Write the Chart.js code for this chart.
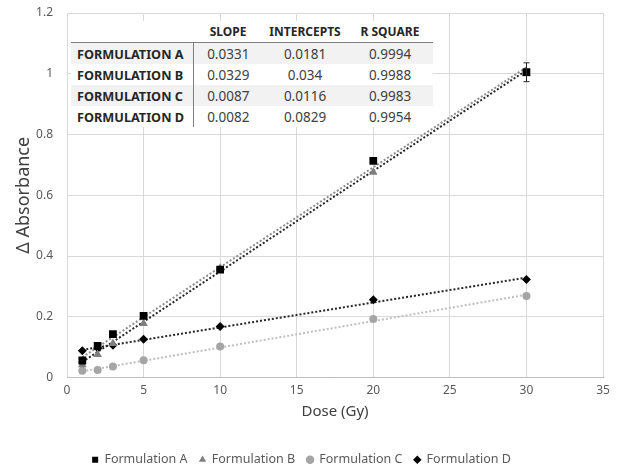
<!DOCTYPE html>
<html lang="en">
<head>
<meta charset="UTF-8" />
<title>Absorbance vs dose</title>
<script src="https://cdn.jsdelivr.net/npm/chart.js@4.4.1/dist/chart.umd.min.js"></script>
<style>
  html, body { margin: 0; padding: 0; background: #fff; }
  #wrap { position: relative; width: 617px; height: 466px; }
  #fitTable {
    position: absolute; left: 71px; top: 21px; width: 362px;
    border-collapse: collapse; background: #fff;
    font-family: "Noto Sans", sans-serif; font-size: 13.5px; color: #404040;
  }
  #fitTable th, #fitTable td { height: 21px; padding: 0; text-align: center; white-space: nowrap; }
  #fitTable thead th { font-size: 12px; font-weight: bold; color: #262626; border-bottom: 1px solid #7f7f7f; }
  #fitTable tbody th { font-size: 12.7px; text-align: left; padding-left: 6px; font-weight: bold; color: #262626; border-right: 1px solid #7f7f7f; }
  #fitTable tbody tr.shade { background: #f2f2f2; }
</style>
</head>
<body>
<div id="wrap">
  <canvas id="doseChart" width="617" height="466"></canvas>
  <table id="fitTable"></table>
</div>
<script>
  const doses = [1, 2, 3, 5, 10, 20, 30];
  const names = ['Formulation A', 'Formulation B', 'Formulation C', 'Formulation D'];
  const absA = [0.056, 0.104, 0.143, 0.203, 0.355, 0.713, 1.005];
  const absB = [0.042, 0.076, 0.112, 0.178, 0.36, 0.676, 1.0];
  const absC = [0.022, 0.025, 0.036, 0.057, 0.102, 0.193, 0.268];
  const absD = [0.088, 0.097, 0.106, 0.126, 0.168, 0.256, 0.323];
  const errA = [0, 0, 0, 0, 0, 0, 0.031];

  const slopes = [0.0331, 0.0329, 0.0087, 0.0082];
  const intercepts = [0.0181, 0.034, 0.0116, 0.0829];
  const rSquares = [0.9994, 0.9988, 0.9983, 0.9954];

  const xTicks = [0, 5, 10, 15, 20, 25, 30, 35];
  const yTicks = [0, 0.2, 0.4, 0.6, 0.8, 1, 1.2];

  // tabela koeficijenata
  const tbl = document.getElementById('fitTable');
  let html = '<colgroup><col style="width:122px"><col style="width:70px"><col style="width:84px"><col style="width:86px"></colgroup>';
  html += '<thead><tr><th></th><th>SLOPE</th><th>INTERCEPTS</th><th>R SQUARE</th></tr></thead><tbody>';
  names.forEach((n, i) => {
    html += `<tr class="${i % 2 === 0 ? 'shade' : ''}"><th>${n.toUpperCase()}</th><td>${slopes[i]}</td><td>${intercepts[i]}</td><td>${rSquares[i]}</td></tr>`;
  });
  tbl.innerHTML = html + '</tbody>';

  const styles = [
    { color: '#000000', line: '#262626', shape: 'rect', r: 5.5 },
    { color: '#7f7f7f', line: '#8c8c8c', shape: 'triangle', r: 5 },
    { color: '#a5a5a5', line: '#bfbfbf', shape: 'circle', r: 4 },
    { color: '#000000', line: '#262626', shape: 'rectRot', r: 4.5 }
  ];
  const series = [absA, absB, absC, absD];

  const datasets = [];
  series.forEach((vals, i) => {
    datasets.push({
      label: names[i],
      data: doses.map((d, k) => ({ x: d, y: vals[k] })),
      showLine: false,
      pointStyle: styles[i].shape,
      pointRadius: styles[i].r,
      backgroundColor: styles[i].color,
      borderColor: styles[i].color,
      borderWidth: 0,
      order: 0
    });
  });
  series.forEach((vals, i) => {
    const x0 = doses[0], x1 = doses[doses.length - 1];
    datasets.push({
      label: 'trend',
      data: [{ x: x0, y: slopes[i] * x0 + intercepts[i] }, { x: x1, y: slopes[i] * x1 + intercepts[i] }],
      showLine: true,
      pointRadius: 0,
      borderColor: styles[i].line,
      borderWidth: 2,
      borderDash: [2, 2],
      fill: false,
      order: 1
    });
  });

  const errorBars = {
    id: 'errorBars',
    afterDatasetsDraw(chart) {
      const { ctx, scales: { x, y } } = chart;
      ctx.save();
      ctx.strokeStyle = '#262626';
      ctx.lineWidth = 1;
      doses.forEach((d, k) => {
        if (!errA[k]) return;
        const px = Math.round(x.getPixelForValue(d)) + 0.5;
        const top = y.getPixelForValue(absA[k] + errA[k]);
        const bot = y.getPixelForValue(absA[k] - errA[k]);
        ctx.beginPath();
        ctx.moveTo(px, top); ctx.lineTo(px, bot);
        ctx.moveTo(px - 3, top); ctx.lineTo(px + 3, top);
        ctx.moveTo(px - 3, bot); ctx.lineTo(px + 3, bot);
        ctx.stroke();
      });
      ctx.restore();
    }
  };

  Chart.defaults.font.family = '"Noto Sans", sans-serif';
  Chart.defaults.color = '#595959';

  new Chart(document.getElementById('doseChart'), {
    type: 'scatter',
    data: { datasets },
    options: {
      responsive: false,
      animation: false,
      layout: { padding: { top: 13, right: 14, left: 0, bottom: -10 } },
      scales: {
        x: {
          type: 'linear', min: 0, max: 35,
          afterBuildTicks: s => { s.ticks = xTicks.map(v => ({ value: v })); },
          afterFit: s => { s.height = 64; },
          grid: { color: '#d9d9d9', drawTicks: false },
          border: { color: '#bfbfbf' },
          ticks: { padding: 6, font: { size: 12 }, color: '#595959' },
          title: { display: true, text: 'Dose (Gy)', font: { size: 15 }, color: '#404040', padding: { top: 0, bottom: 21 } }
        },
        y: {
          type: 'linear', min: 0, max: 1.2,
          afterBuildTicks: s => { s.ticks = yTicks.map(v => ({ value: v })); },
          afterFit: s => { s.width = 67; s.paddingTop = 0; s.paddingBottom = 0; },
          grid: { color: '#d9d9d9', drawTicks: false },
          border: { display: false },
          ticks: { padding: 14, font: { size: 12 }, color: '#595959', callback: v => String(v) },
          title: { display: true, text: 'Δ Absorbance', font: { size: 18 }, color: '#404040', padding: { top: 13, bottom: 0 } }
        }
      },
      plugins: {
        legend: {
          position: 'bottom',
          labels: {
            usePointStyle: true,
            boxWidth: 6, boxHeight: 6,
            padding: 12,
            font: { size: 12.5 },
            color: '#595959',
            filter: item => item.text !== 'trend'
          }
        },
        tooltip: { enabled: false }
      }
    },
    plugins: [errorBars]
  });
</script>
</body>
</html>
